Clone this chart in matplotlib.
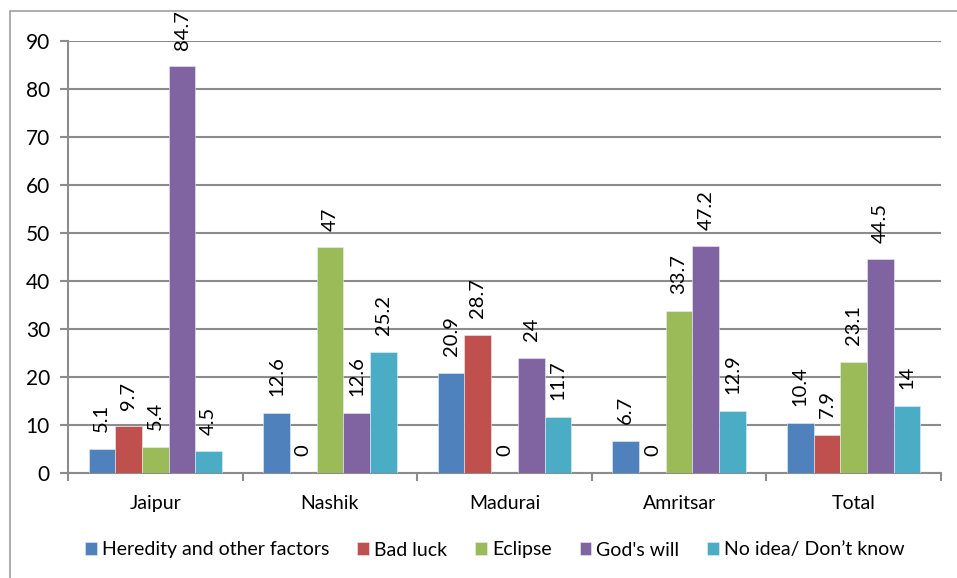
import numpy as np
import matplotlib.pyplot as plt
from matplotlib.patches import Rectangle

plt.rcParams['font.family'] = ['Lato', 'DejaVu Sans']

# data
places = ['Jaipur', 'Nashik', 'Madurai', 'Amritsar', 'Total']
series = ['Heredity and other factors', 'Bad luck', 'Eclipse', "God's will", 'No idea/ Don\u2019t know']
heredity = [5.1, 12.6, 20.9, 6.7, 10.4]
bad_luck = [9.7, 0, 28.7, 0, 7.9]
eclipse = [5.4, 47, 0, 33.7, 23.1]
gods_will = [84.7, 12.6, 24, 47.2, 44.5]
no_idea = [4.5, 25.2, 11.7, 12.9, 14]

values = [heredity, bad_luck, eclipse, gods_will, no_idea]
colors = ['#4F81BD', '#C0504D', '#9BBB59', '#8064A2', '#4BACC6']
grid_col = '#8C8C8C'

fig = plt.figure(figsize=(9.57, 5.78), dpi=100)
ax = fig.add_axes([68 / 957, 1 - 473 / 578, (941 - 68) / 957, (473 - 41) / 578])

# outer chart frame (runs off the right and bottom edges)
fig.patches.append(Rectangle((10 / 957, -0.1), 1.2, 1 - 11 / 578 + 0.1,
                             transform=fig.transFigure, fill=False,
                             edgecolor='#A0A0A0', linewidth=1.2))

x = np.arange(len(places))
w = 0.153
for i, (vals, col, name) in enumerate(zip(values, colors, series)):
    pos = x - 2 * w + i * w
    ax.bar(pos, vals, width=w, color=col, label=name, zorder=3,
           edgecolor='#E8EEF6', linewidth=0.4)
    for px, v in zip(pos, vals):
        # labels sit above the bar, kept inside the chart near the top
        ax.text(px, min(v + 3.5, 88.5), f'{v:g}', rotation=90, ha='center',
                va='bottom', fontsize=14.5, zorder=4, clip_on=False)

ax.set_xlim(-0.5, len(places) - 0.5)
ax.set_ylim(0, 90)
ax.set_yticks(range(0, 91, 10))
ax.yaxis.grid(True, color=grid_col, linewidth=1.5, zorder=0)
ax.set_axisbelow(True)

ax.set_xticks(x)
ax.set_xticklabels(places)
ax.set_xticks(np.arange(-0.5, len(places), 1), minor=True)
ax.tick_params(axis='x', which='major', length=0, pad=16, labelsize=14)
ax.tick_params(axis='x', which='minor', length=6, width=1.5, color=grid_col)
ax.tick_params(axis='y', length=6, width=1.5, color=grid_col, labelsize=15, pad=7)

for s in ['top', 'right']:
    ax.spines[s].set_visible(False)
for s in ['left', 'bottom']:
    ax.spines[s].set_color(grid_col)
    ax.spines[s].set_linewidth(1.5)

fig.legend(loc='center', bbox_to_anchor=(495 / 957, 1 - 550 / 578), ncol=5,
           frameon=False, fontsize=14, handlelength=0.6, handleheight=0.6,
           handletextpad=0.25, columnspacing=1.45)

fig.savefig('out.png', dpi=100)
